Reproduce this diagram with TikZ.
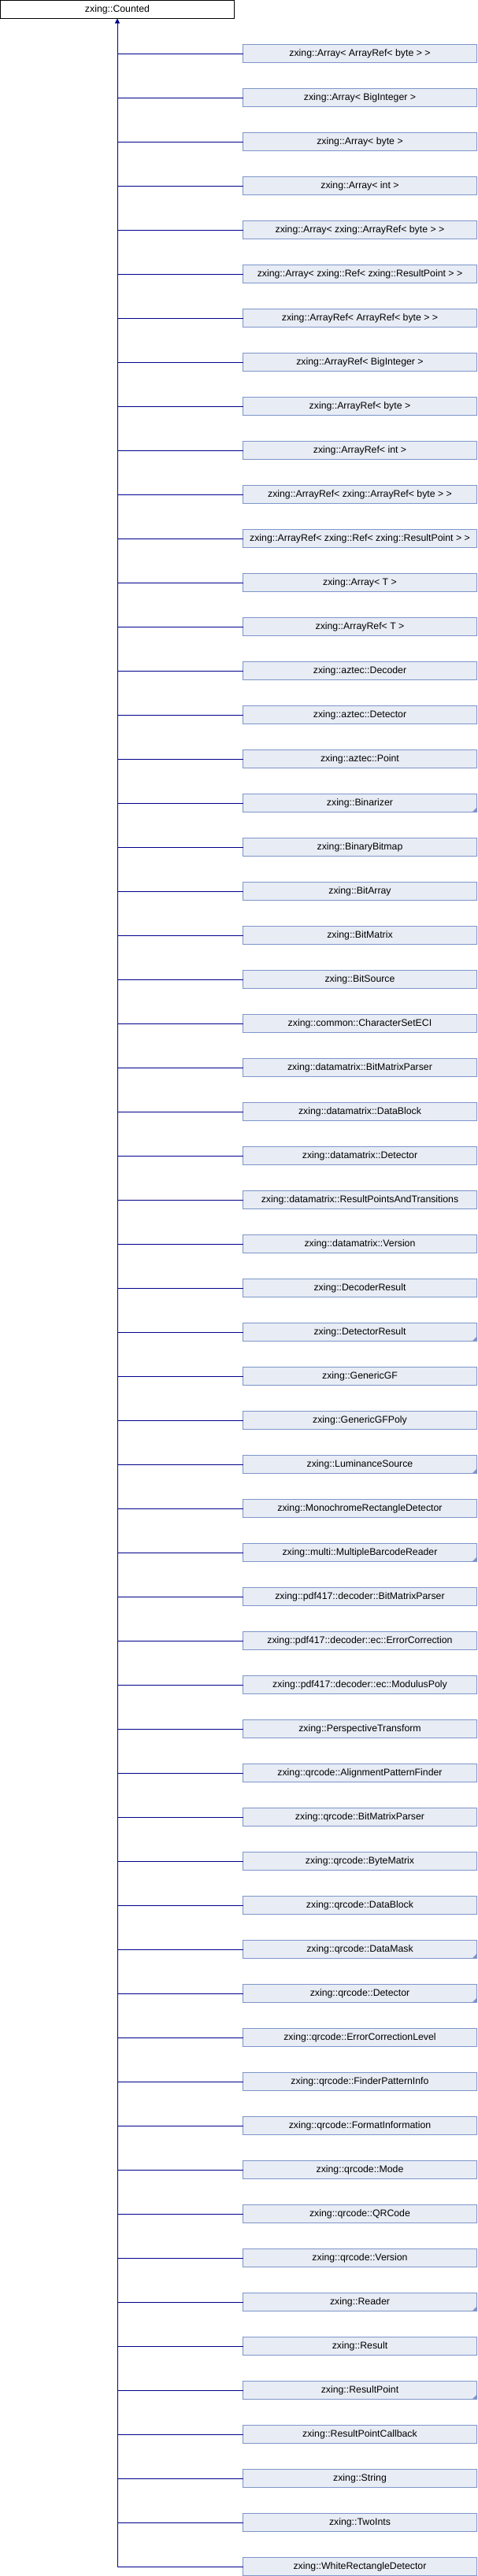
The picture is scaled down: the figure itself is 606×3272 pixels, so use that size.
\documentclass[tikz,border=0pt]{standalone}
\usepackage{fontspec}
\setmainfont{Liberation Sans}
\usetikzlibrary{arrows.meta}
\definecolor{edgecol}{RGB}{0,0,140}
\definecolor{boxfill}{RGB}{232,236,244}
\definecolor{boxline}{RGB}{124,149,202}
\begin{document}
\begin{tikzpicture}[x=1pt,y=-1pt,
  lbl/.style={font=\fontsize{12.3}{14}\selectfont},
  cls/.style={lbl, draw=boxline, fill=boxfill, line width=1pt, minimum width=297pt, minimum height=23pt, inner sep=0pt, outer sep=0pt},
  basecls/.style={lbl, draw=black, fill=white, line width=1pt, minimum width=297pt, minimum height=23pt, inner sep=0pt, outer sep=0pt},
  edge/.style={draw=edgecol, line width=1pt},
  moremark/.style={fill=boxline}]
\useasboundingbox (0,0) rectangle (606,3272);
\node[basecls] (top) at (149,12) {zxing::Counted};
\foreach \t [count=\i from 0] in {
zxing::Array< ArrayRef< byte > >,
zxing::Array< BigInteger >,
zxing::Array< byte >,
zxing::Array< int >,
zxing::Array< zxing::ArrayRef< byte > >,
zxing::Array< zxing::Ref< zxing::ResultPoint > >,
zxing::ArrayRef< ArrayRef< byte > >,
zxing::ArrayRef< BigInteger >,
zxing::ArrayRef< byte >,
zxing::ArrayRef< int >,
zxing::ArrayRef< zxing::ArrayRef< byte > >,
zxing::ArrayRef< zxing::Ref< zxing::ResultPoint > >,
zxing::Array< T >,
zxing::ArrayRef< T >,
zxing::aztec::Decoder,
zxing::aztec::Detector,
zxing::aztec::Point,
zxing::Binarizer,
zxing::BinaryBitmap,
zxing::BitArray,
zxing::BitMatrix,
zxing::BitSource,
zxing::common::CharacterSetECI,
zxing::datamatrix::BitMatrixParser,
zxing::datamatrix::DataBlock,
zxing::datamatrix::Detector,
zxing::datamatrix::ResultPointsAndTransitions,
zxing::datamatrix::Version,
zxing::DecoderResult,
zxing::DetectorResult,
zxing::GenericGF,
zxing::GenericGFPoly,
zxing::LuminanceSource,
zxing::MonochromeRectangleDetector,
zxing::multi::MultipleBarcodeReader,
zxing::pdf417::decoder::BitMatrixParser,
zxing::pdf417::decoder::ec::ErrorCorrection,
zxing::pdf417::decoder::ec::ModulusPoly,
zxing::PerspectiveTransform,
zxing::qrcode::AlignmentPatternFinder,
zxing::qrcode::BitMatrixParser,
zxing::qrcode::ByteMatrix,
zxing::qrcode::DataBlock,
zxing::qrcode::DataMask,
zxing::qrcode::Detector,
zxing::qrcode::ErrorCorrectionLevel,
zxing::qrcode::FinderPatternInfo,
zxing::qrcode::FormatInformation,
zxing::qrcode::Mode,
zxing::qrcode::QRCode,
zxing::qrcode::Version,
zxing::Reader,
zxing::Result,
zxing::ResultPoint,
zxing::ResultPointCallback,
zxing::String,
zxing::TwoInts,
zxing::WhiteRectangleDetector}{
  \pgfmathsetmacro\yy{68+56*\i}
  \node[cls] (c\i) at (457,\yy) {\t};
  \coordinate (j\i) at (149,\yy);
  \draw[edge] (c\i.west) -- (j\i);
}
\draw[edge, -{Triangle[width=6pt,length=6pt]}] (j57) -- (top.south);
\foreach \i in {17,29,32,34,43,44,51,53}
  \fill[moremark] (c\i.south east) -- ++(-6,0) -- ++(6,-6) -- cycle;
\end{tikzpicture}
\end{document}
